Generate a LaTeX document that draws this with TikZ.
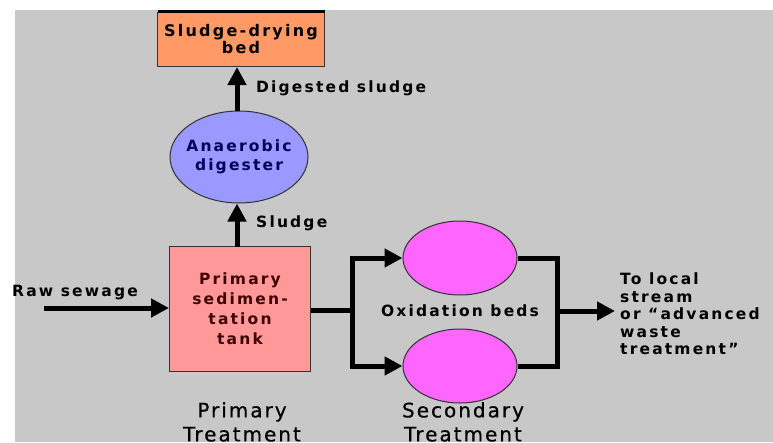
\documentclass[tikz,border=0pt]{standalone}
\usepackage{fontspec}
\setmainfont{DejaVu Sans}
\newfontfamily\chic[LetterSpace=14]{DejaVu Sans Bold}
\newfontfamily\gen[LetterSpace=10,FakeBold=0.6]{DejaVu Sans}
\usetikzlibrary{arrows.meta,shapes.geometric}
\definecolor{bg}{HTML}{C8C8C8}
\definecolor{orng}{HTML}{FF9966}
\definecolor{blu}{HTML}{9999FF}
\definecolor{pnk}{HTML}{FF9999}
\definecolor{mag}{HTML}{FF66FF}
\begin{document}
\begin{tikzpicture}[x=1pt,y=-1pt,
  lbl/.style={font=\chic\fontsize{15.5}{17}\selectfont, inner sep=0pt},
  big/.style={font=\gen\fontsize{20}{24}\selectfont, align=center, inner sep=0pt},
  flow/.style={line width=5pt, -{Triangle[length=18pt,width=18pt]}},
  pipe/.style={line width=5pt}]
\useasboundingbox (0,0) rectangle (773,442);
\clip (0,0) rectangle (773,442);
\fill[white] (0,0) rectangle (773,442);
\fill[bg] (15,10) rectangle (773,442);
% sludge drying bed
\node[draw=black!80, line width=1pt, fill=orng, minimum width=167pt, minimum height=54pt, inner sep=0pt, anchor=north, font=\chic\fontsize{16}{17}\selectfont, align=center] (bed) at (241,12) {Sludge-drying\\bed};
\draw[line width=3pt] (158,11.5) -- (325,11.5);
% anaerobic digester
\node[draw=black!80, line width=1pt, fill=blu, ellipse, minimum width=138pt, minimum height=92pt, inner sep=0pt] (dig) at (239,157) {};
\node[font=\chic\fontsize{15.5}{19}\selectfont, align=center, text=blue!35!black, inner sep=0pt] (digt) at (dig.center) {Anaerobic\\digester};
% primary tank
\node[draw=black!80, line width=1pt, fill=pnk, minimum width=141pt, minimum height=125pt, inner sep=0pt, font=\chic\fontsize{15.5}{20}\selectfont, align=center, text=red!25!black] (tank) at (240,309) {Primary\\sedimen-\\tation\\tank};
% oxidation beds
\node[draw=black!80, line width=1pt, fill=mag, ellipse, minimum width=114pt, minimum height=74pt, inner sep=0pt] (ox1) at (460,258) {};
\node[draw=black!80, line width=1pt, fill=mag, ellipse, minimum width=114pt, minimum height=74pt, inner sep=0pt] (ox2) at (460,366) {};
\node[lbl] (oxl) at (460,311) {Oxidation beds};
% labels
\node[lbl, anchor=west] (dsl) at (256,88) {Digested sludge};
\node[lbl, anchor=west] (sl) at (256,223) {Sludge};
\node[lbl, anchor=west] (raw) at (12,293) {Raw sewage};
\node[lbl, anchor=north west, align=left, font=\chic\fontsize{15.5}{17.5}\selectfont] (out) at (620,273) {To local\\stream\\or “advanced\\waste\\treatment”};
\node[big, anchor=north] (pt) at (242,402) {Primary\\Treatment};
\node[big, anchor=north] (st) at (463,402) {Secondary\\Treatment};
% coordinates
\coordinate (rawstart) at (44,308);
\coordinate (split) at (352,310);
\coordinate (splitT) at (352,258);
\coordinate (splitB) at (352,366);
\coordinate (joinT) at (555,258);
\coordinate (joinB) at (555,366);
\coordinate (join) at (555,311);
\coordinate (outend) at (615,311);
\coordinate (up1) at (237,247);
\coordinate (up2) at (237,111);
% connectors
\draw[flow] (rawstart) -- (tank.west |- rawstart);
\draw[flow] (up1) -- (dig.south -| up1);
\draw[flow] (up2) -- (bed.south -| up2);
\draw[pipe] (tank.east |- split) -- (split);
\draw[pipe] ([yshift=-2.5pt]splitT) -- ([yshift=2.5pt]splitB);
\draw[flow] ([xshift=-2.5pt]splitT) -- (ox1.west);
\draw[flow] ([xshift=-2.5pt]splitB) -- (ox2.west);
\draw[pipe] (ox1.east) -- ([xshift=2.5pt]joinT) -- ([xshift=2.5pt]joinB) -- (ox2.east);
\draw[flow] (join) -- (outend);
\end{tikzpicture}
\end{document}
